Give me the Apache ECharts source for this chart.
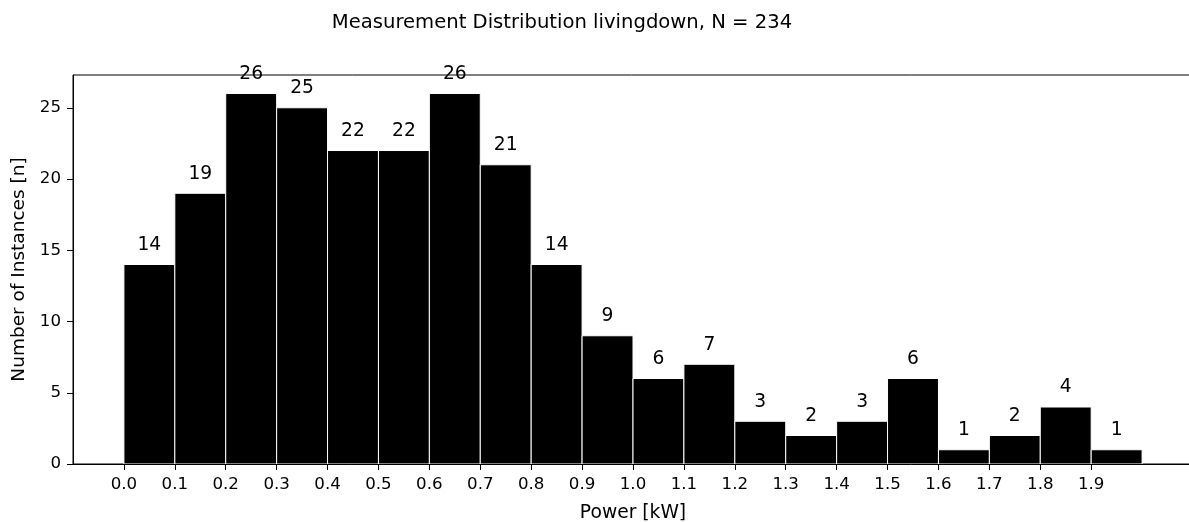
<!DOCTYPE html>
<html>
<head>
<meta charset="utf-8">
<script src="https://cdn.jsdelivr.net/npm/echarts@6/dist/echarts.min.js"></script>
<style>
html,body{margin:0;padding:0;background:#fff;overflow:hidden;}
#chart{width:1189px;height:522px;}
</style>
</head>
<body>
<div id="chart"></div>
<script>
const titleText = 'Measurement Distribution livingdown, N = 234';
const xAxisName = 'Power [kW]';
const yAxisName = 'Number of Instances [n]';
const binStarts = [0.0, 0.1, 0.2, 0.3, 0.4, 0.5, 0.6, 0.7, 0.8, 0.9, 1.0, 1.1, 1.2, 1.3, 1.4, 1.5, 1.6, 1.7, 1.8, 1.9];
const binWidth = 0.1;
const counts = [14, 19, 26, 25, 22, 22, 26, 21, 14, 9, 6, 7, 3, 2, 3, 6, 1, 2, 4, 1];
const xTickValues = [0.0, 0.1, 0.2, 0.3, 0.4, 0.5, 0.6, 0.7, 0.8, 0.9, 1.0, 1.1, 1.2, 1.3, 1.4, 1.5, 1.6, 1.7, 1.8, 1.9];
const yTickValues = [0, 5, 10, 15, 20, 25];

const FONT = 'DejaVu Sans';
const chart = echarts.init(document.getElementById('chart'), null, {renderer: 'canvas'});

const seriesData = binStarts.map((s, i) => [s, counts[i]]);

const option = {
  animation: false,
  backgroundColor: '#fff',
  title: {
    text: titleText,
    left: 557,
    textAlign: 'center',
    top: 8,
    textStyle: {fontFamily: FONT, fontSize: 19.6, fontWeight: 'normal', color: '#000'}
  },
  grid: {
    left: 73, right: -4, top: 75, bottom: 58,
    outerBoundsMode: 'none',
    containLabel: false,
    show: true, borderColor: '#000', borderWidth: 1, backgroundColor: 'transparent'
  },
  xAxis: {
    type: 'value',
    min: -0.1, max: 2.1,
    z: 5,
    name: xAxisName,
    nameLocation: 'middle',
    nameGap: 40,
    nameTextStyle: {fontFamily: FONT, fontSize: 18.7, color: '#000'},
    axisLine: {show: true, onZero: false, lineStyle: {color: '#000', width: 1}},
    axisTick: {show: true, length: 6, lineStyle: {color: '#000', width: 1}, customValues: xTickValues},
    axisLabel: {
      show: true, margin: 12, fontFamily: FONT, fontSize: 16.67, color: '#000',
      customValues: xTickValues,
      formatter: v => Number(v).toFixed(1)
    },
    splitLine: {show: false}
  },
  yAxis: {
    type: 'value',
    min: 0, max: 27.3,
    z: 5,
    name: yAxisName,
    nameLocation: 'middle',
    nameGap: 44,
    nameTextStyle: {fontFamily: FONT, fontSize: 18.5, color: '#000'},
    axisLine: {show: true, onZero: false, lineStyle: {color: '#000', width: 1}},
    axisTick: {show: true, length: 6, lineStyle: {color: '#000', width: 1}, customValues: yTickValues},
    axisLabel: {
      show: true, margin: 12, fontFamily: FONT, fontSize: 16.67, color: '#000',
      customValues: yTickValues
    },
    splitLine: {show: false}
  },
  series: [{
    type: 'custom',
    clip: false,
    z: 2,
    data: seriesData,
    renderItem: function (params, api) {
      const start = api.value(0);
      const count = api.value(1);
      const p0 = api.coord([start, 0]);
      const p1 = api.coord([start + binWidth, count]);
      return {
        type: 'group',
        children: [
          {
            type: 'rect',
            shape: {x: p0[0], y: p1[1], width: p1[0] - p0[0], height: p0[1] - p1[1]},
            style: {fill: '#000', stroke: '#fff', lineWidth: 1}
          },
          {
            type: 'text',
            z2: 10,
            style: {
              text: String(count),
              x: (p0[0] + p1[0]) / 2,
              y: p1[1] - 10,
              align: 'center',
              verticalAlign: 'bottom',
              fontFamily: FONT,
              fontSize: 18.7,
              fill: '#000'
            }
          }
        ]
      };
    }
  }]
};
chart.setOption(option);
</script>
</body>
</html>
